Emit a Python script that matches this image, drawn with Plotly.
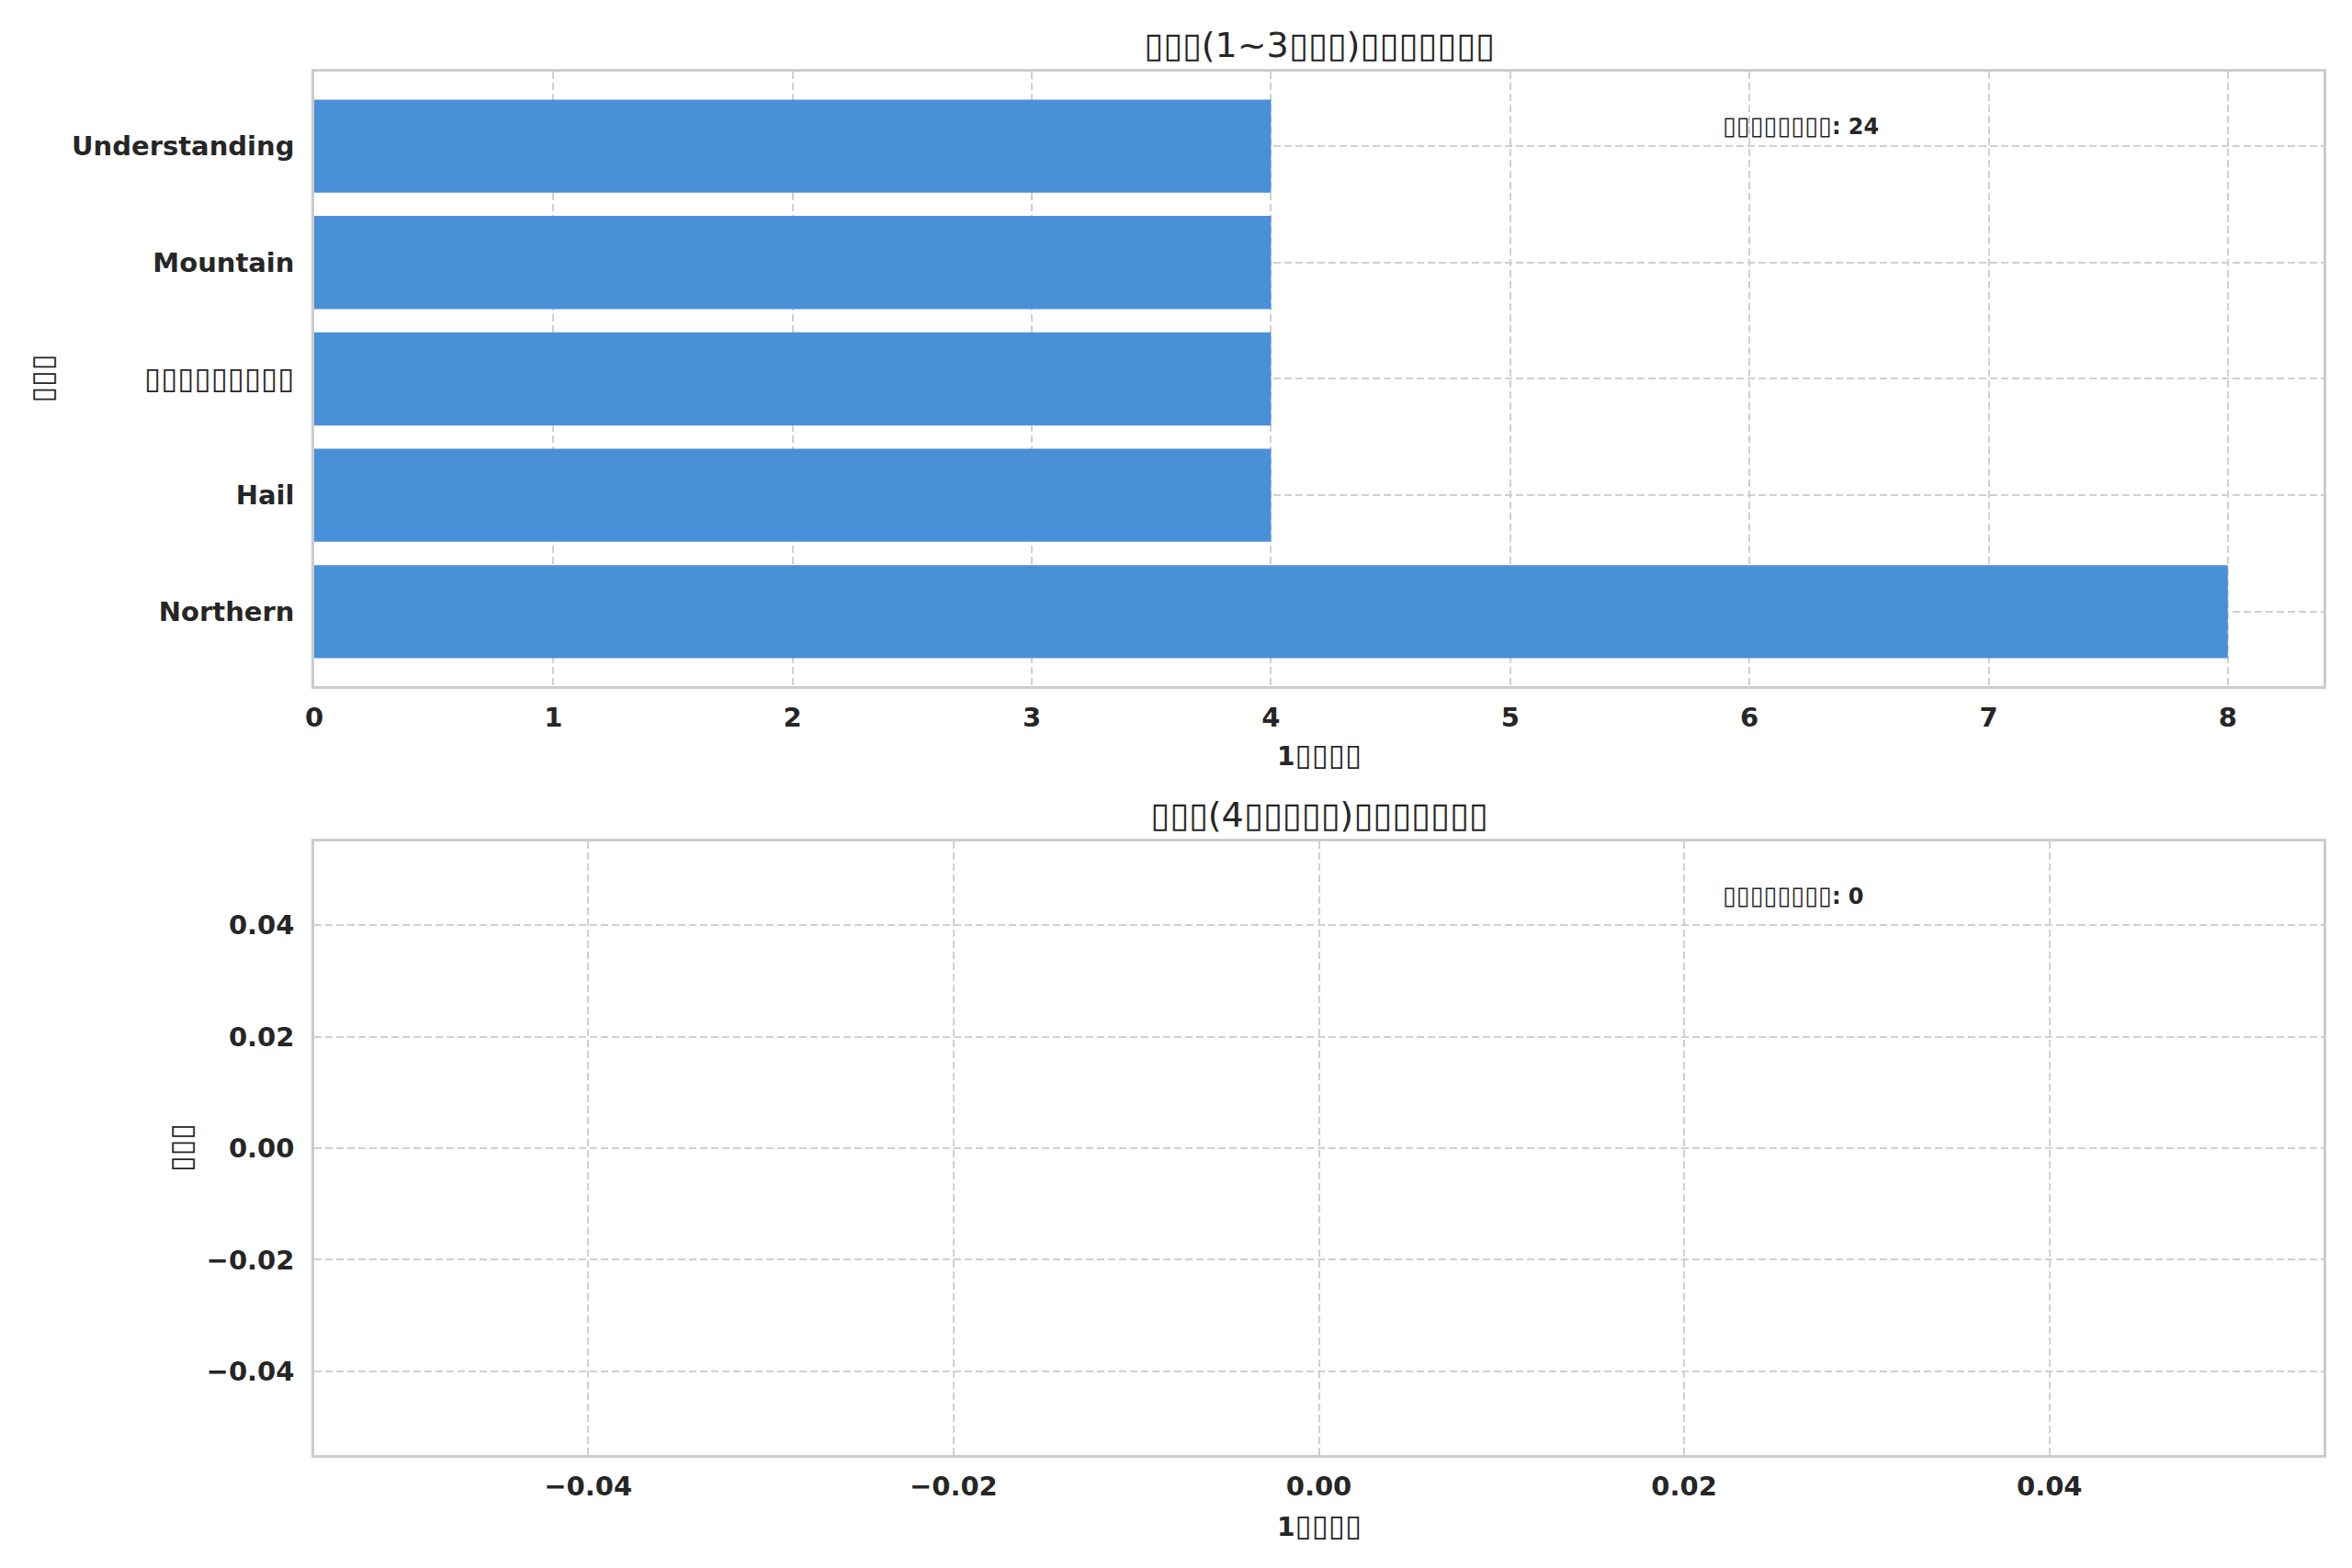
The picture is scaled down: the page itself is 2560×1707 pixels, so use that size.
import re
import plotly.graph_objects as go

# ---- data ----
categories = ["Northern", "Hail", "▯▯▯▯▯▯▯▯▯", "Mountain", "Understanding"]
counts = [8, 4, 4, 4, 4]
top_xticks = [0, 1, 2, 3, 4, 5, 6, 7, 8]
bottom_ticks = [-0.04, -0.02, 0.0, 0.02, 0.04]
title_top = "▯▯▯(1~3▯▯▯)▯▯▯▯▯▯▯"
title_bottom = "▯▯▯(4▯▯▯▯▯)▯▯▯▯▯▯▯"
x_label = "1▯▯▯▯"
y_label = "▯▯▯"
total_label = "▯▯▯▯▯▯▯▯"
total_top = sum(counts)
total_bottom = 0

BAR = "#4a90d9"
TXT = "#262626"
GRID = "#d0d0d0"
SPINE = "#cccccc"
FONT = "DejaVu Sans"
TICK = 29


def fmt(s, bold=True, size=None):
    out = []
    for run in re.findall(r"▯+|[^▯]+", s):
        if run[0] == "▯":
            st = "font-family:DejaVu Sans;font-weight:normal"
            if bold and size:
                st += ";font-size:%dpx" % round(size * 1.13)
            out.append("<span style=\"" + st + "\">" + run + "</span>")
        else:
            out.append("<b>" + run + "</b>" if bold else run)
    return "".join(out)


fig = go.Figure()
fig.add_trace(go.Bar(x=counts, y=categories, orientation="h", marker_color=BAR,
                     marker_line_width=0, width=0.8, xaxis="x", yaxis="y",
                     showlegend=False, hoverinfo="skip"))
fig.add_trace(go.Scatter(x=[], y=[], xaxis="x2", yaxis="y2", showlegend=False))

axis_common = dict(
    showgrid=True, gridcolor=GRID, gridwidth=2, griddash="8px,4px",
    showline=True, linecolor=SPINE, linewidth=2.5, mirror=True,
    zeroline=False, ticks="", tickfont=dict(family=FONT, size=TICK, color=TXT, weight="bold"),
)

top_dom = [0.5558, 1.0]
bot_dom = [0.0, 0.4436]

fig.update_layout(
    width=2560, height=1707,
    margin=dict(l=342, r=31, t=78, b=123),
    paper_bgcolor="white", plot_bgcolor="white",
    bargap=0.2,
    xaxis=dict(domain=[0, 1], anchor="y", range=[0, 8.4], tickvals=top_xticks,
               ticklabelstandoff=6, **axis_common),
    yaxis=dict(domain=top_dom, anchor="x", type="category", categoryorder="array",
               categoryarray=categories, range=[-0.64, 4.64],
               tickvals=categories, ticktext=[fmt(c, size=TICK) for c in categories],
               ticklabelstandoff=13, **axis_common),
    xaxis2=dict(domain=[0, 1], anchor="y2", range=[-0.055, 0.055], tickvals=bottom_ticks,
                tickformat=".2f", ticklabelstandoff=6, **axis_common),
    yaxis2=dict(domain=bot_dom, anchor="x2", range=[-0.055, 0.055], tickvals=bottom_ticks,
                tickformat=".2f", ticklabelstandoff=13, **axis_common),
)

ann = []
# titles
ann.append(dict(text=fmt(title_top, bold=False), x=0.5, y=1.0193, xref="paper", yref="paper",
                xanchor="center", yanchor="middle", showarrow=False,
                font=dict(family=FONT, size=38, color=TXT)))
ann.append(dict(text=fmt(title_bottom, bold=False), x=0.5, y=0.4628, xref="paper", yref="paper",
                xanchor="center", yanchor="middle", showarrow=False,
                font=dict(family=FONT, size=38, color=TXT)))
# x labels
for yy in (0.506, -0.0505):
    ann.append(dict(text=fmt(x_label, size=29), x=0.5, y=yy, xref="paper", yref="paper",
                    xanchor="center", yanchor="middle", showarrow=False,
                    font=dict(family=FONT, size=28, color=TXT)))
# y labels
ann.append(dict(text=fmt(y_label, size=28), x=-0.1353, y=sum(top_dom) / 2, xref="paper", yref="paper",
                xanchor="center", yanchor="middle", textangle=-90, showarrow=False,
                font=dict(family=FONT, size=28, color=TXT)))
ann.append(dict(text=fmt(y_label, size=28), x=-0.0663, y=sum(bot_dom) / 2, xref="paper", yref="paper",
                xanchor="center", yanchor="middle", textangle=-90, showarrow=False,
                font=dict(family=FONT, size=28, color=TXT)))
# totals
ann.append(dict(text=fmt(total_label + ": " + str(total_top), size=24), x=0.7, y=0.912,
                xref="x domain", yref="y domain", xanchor="left", yanchor="middle", showarrow=False,
                font=dict(family=FONT, size=24, color=TXT)))
ann.append(dict(text=fmt(total_label + ": " + str(total_bottom), size=24), x=0.7, y=0.912,
                xref="x2 domain", yref="y2 domain", xanchor="left", yanchor="middle", showarrow=False,
                font=dict(family=FONT, size=24, color=TXT)))
fig.update_layout(annotations=ann)

fig.write_html("out.html", config={"displayModeBar": False},
               post_script="document.body.style.margin='0px';document.body.style.overflow='hidden';")
